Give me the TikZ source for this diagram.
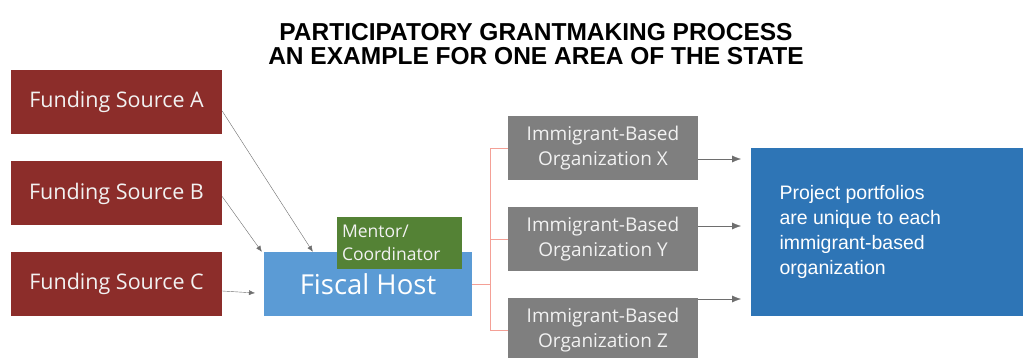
\documentclass[tikz,border=0pt]{standalone}
\usepackage{fontspec}
\setmainfont{Open Sans}
\newfontfamily\arialfont{Liberation Sans}
\usetikzlibrary{arrows.meta,calc}

\definecolor{fundred}{RGB}{140,45,42}
\definecolor{hostblue}{RGB}{91,155,213}
\definecolor{mentorgreen}{RGB}{84,130,53}
\definecolor{orggray}{RGB}{127,127,127}
\definecolor{portblue}{RGB}{46,117,182}
\definecolor{salmon}{RGB}{244,160,150}
\definecolor{arrowgray}{RGB}{110,110,110}

\tikzset{
  fundbox/.style = {fill = fundred, text = white!95!black, minimum width = 211pt,
    minimum height = 64pt, font = \fontsize{21.5}{24}\selectfont},
  orgbox/.style = {fill = orggray, text = white!95!black, minimum width = 190pt,
    minimum height = 64pt, align = center, font = \fontsize{19}{25}\selectfont},
  feed/.style = {arrowgray, thin, -{Latex[length=6pt,width=5pt]}},
  branch/.style = {salmon, thick}
}

\begin{document}
\begin{tikzpicture}[x = 1pt, y = -1pt]
        \useasboundingbox (0, 0) rectangle (1023, 358);
        \fill[white] (0, 0) rectangle (1023, 358);

        % title
        \node[font = \arialfont\bfseries\fontsize{24.5}{24}\selectfont, align = center] (title) at (536, 44)
            {PARTICIPATORY GRANTMAKING PROCESS\\AN EXAMPLE FOR ONE AREA OF THE STATE};

        % funding sources
        \node[fundbox] (fundA) at (116.5, 102) {Funding Source A};
        \node[fundbox] (fundB) at (116.5, 193.5) {Funding Source B};
        \node[fundbox] (fundC) at (116.5, 284) {Funding Source C};

        % fiscal host and mentor
        \node[fill = hostblue, text = white, minimum width = 208pt, minimum height = 64pt,
            font = \fontsize{27.5}{30}\selectfont] (fiscal) at (368, 284) {\raisebox{-3pt}{Fiscal Host}};
        \node[fill = mentorgreen, text = white!95!black, minimum width = 125pt, minimum height = 52pt,
            text width = 115pt, inner xsep = 5pt, align = left, font = \fontsize{17.5}{23}\selectfont]
            (mentor) at (399.5, 243) {Mentor/\\Coordinator};

        % organizations
        \node[orgbox] (orgX) at (603, 148) {Immigrant-Based\\Organization X};
        \node[orgbox] (orgY) at (603, 239) {Immigrant-Based\\Organization Y};
        \node[orgbox] (orgZ) at (603, 330) {Immigrant-Based\\Organization Z};

        % portfolios
        \node[fill = portblue, text = white, minimum width = 290pt, minimum height = 168pt,
            anchor = north west] (portfolio) at (751, 148) {};
        \node[font = \arialfont\fontsize{19.5}{25}\selectfont, text = white, align = left, anchor = west]
            (portfoliotext) at (776, 232) {Project portfolios\\are unique to each\\immigrant-based\\organization};

        % arrows into the fiscal host
        \coordinate (tipA) at ($(fiscal.north west) + (49, 0)$);
        \coordinate (tipB) at ($(fiscal.north west) + (-2, 0)$);
        \coordinate (tipC) at (255, 293);
        \draw[feed] ($(fundA.east) + (0, 9)$) -- (tipA);
        \draw[feed] ($(fundB.east) + (0, 3)$) -- (tipB);
        \draw[feed] ($(fundC.east) + (0, 7)$) -- (tipC);

        % branches to the organizations
        \coordinate (split) at (490, 284);
        \draw[branch] (fiscal.east) -- (split);
        \draw[branch] (split) |- (orgX.west);
        \draw[branch] (split) |- (orgY.west);
        \draw[branch] (split) |- (orgZ.west);

        % arrows into the portfolios
        \coordinate (tipX) at (741, 159);
        \coordinate (tipY) at (741, 226);
        \coordinate (tipZ) at (741, 299);
        \draw[feed, -{Latex[length=9pt,width=7pt]}] (orgX.east |- tipX) -- (tipX);
        \draw[feed, -{Latex[length=9pt,width=7pt]}] (orgY.east |- tipY) -- (tipY);
        \draw[feed, -{Latex[length=9pt,width=7pt]}] (orgZ.east |- tipZ) -- (tipZ);
    \end{tikzpicture}
\end{document}
